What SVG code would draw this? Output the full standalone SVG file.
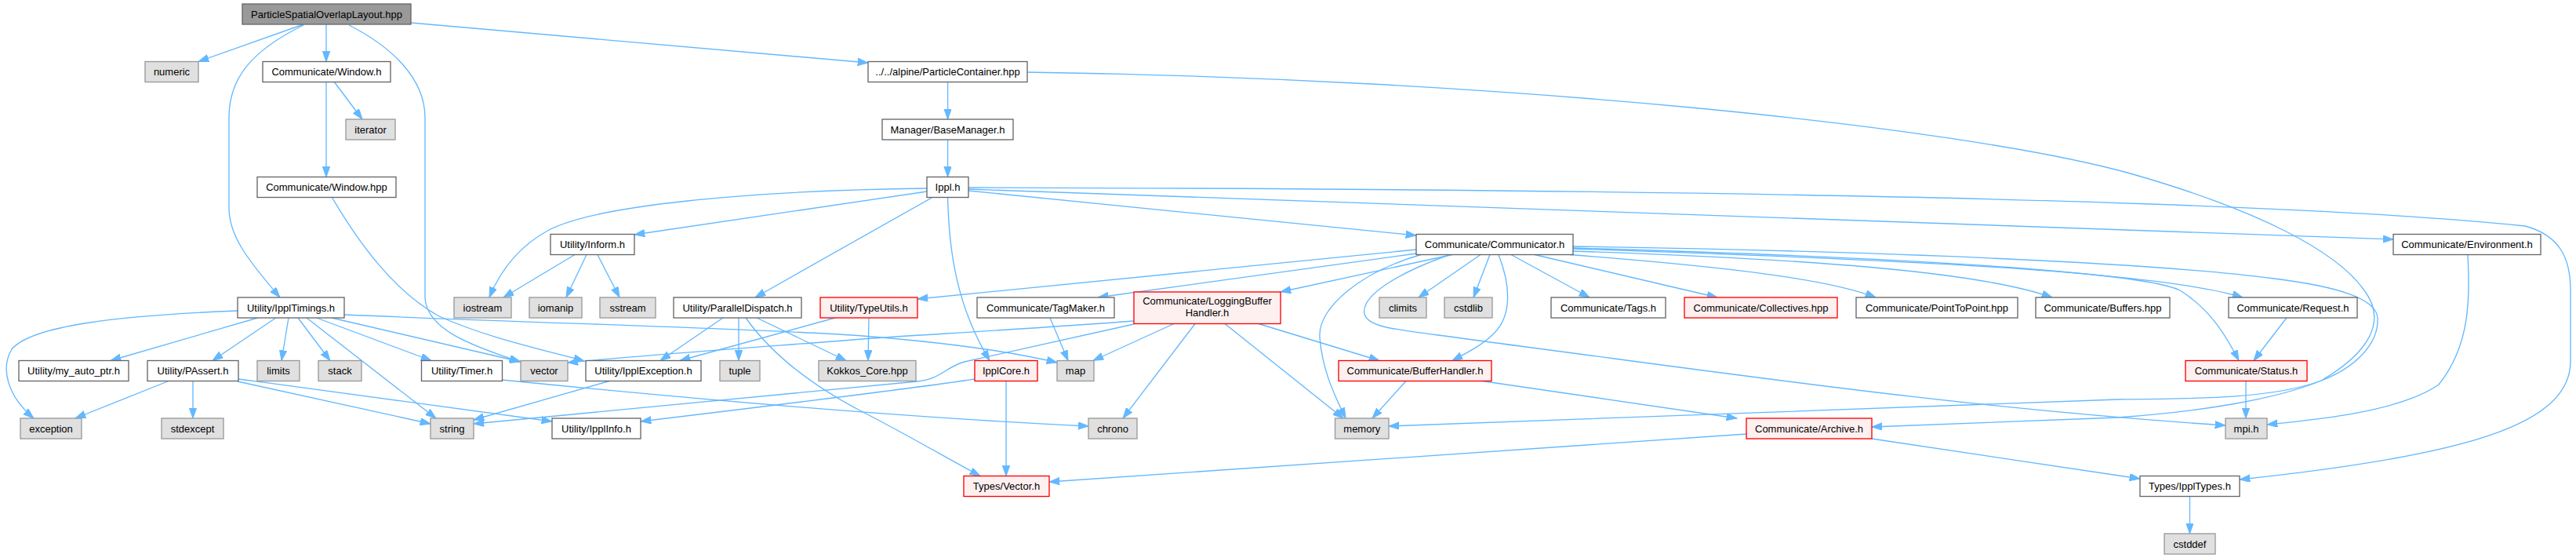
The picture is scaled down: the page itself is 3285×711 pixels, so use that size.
<svg xmlns="http://www.w3.org/2000/svg" width="3285" height="711" viewBox="0 0 3285 711">
<style>
rect{stroke-width:1.33}
.n rect{fill:#ffffff;stroke:#666666}
.s rect{fill:#e0e0e0;stroke:#999999}
.r rect{fill:#fff0f0;stroke:#ff0000}
.root rect{fill:#999999;stroke:#666666}
text{font-family:"Liberation Sans",Arial,Helvetica,sans-serif;font-size:13px;text-anchor:middle;fill:#000000}
#edges path{fill:none;stroke:#63b8ff;stroke-width:1.33;marker-end:url(#a)}
</style>
<defs>
<marker id="a" markerUnits="userSpaceOnUse" markerWidth="14" markerHeight="10" refX="13.3" refY="4.7" orient="auto"><path d="M0,0L13.3,4.7L0,9.4z" fill="#63b8ff" stroke="#63b8ff" stroke-width="1"/></marker>
</defs>
<rect width="3285" height="711" fill="#ffffff"/>
<g id="edges">
<path d="M387,31 L253,78.5"/>
<path d="M416,31 L416,78.5"/>
<path d="M387,32 C320,65 292,100 292,150 L292,265 C292,300 315,330 357,379"/>
<path d="M445,32 C500,60 542,100 542,150 L542,380 C545,420 600,440 663,461"/>
<path d="M524,29 L1107,80"/>
<path d="M426,104 L462,152"/>
<path d="M416,104 L416,225.5"/>
<path d="M423,251 C455,305 500,370 560,403 C620,430 690,445 745,460"/>
<path d="M1208.6,104.5 L1208.6,152"/>
<path d="M1208.6,178 L1208.6,225.5"/>
<path d="M1310,92 C1900,100 2500,160 2720,222 C2880,268 2980,320 3015,370 C3045,410 3020,450 2960,485 C2900,508 2800,508 2700,509 L1771,543"/>
<path d="M1182,240 C950,243 760,262 700,293 C665,312 640,340 624,379"/>
<path d="M1182,244 L809,299"/>
<path d="M1189,251.5 L963,379"/>
<path d="M1208.6,251.5 C1210,320 1220,390 1262,459.5"/>
<path d="M1235,243 L1806,300"/>
<path d="M1235,241 L3052,305"/>
<path d="M1235,239 C2200,241 2900,255 3220,288 C3265,300 3278,330 3278,370 L3278,460 C3278,540 3150,580 2856,611"/>
<path d="M733,324.5 L642,379"/>
<path d="M748,324.5 L722,379"/>
<path d="M762,324.5 L790,379"/>
<path d="M1806,318 L1170,381"/>
<path d="M1806,323 L1400,379"/>
<path d="M1812,324.5 C1740,345 1680,390 1683,430 C1686,470 1700,500 1716,533"/>
<path d="M1852,324.5 L1633,372"/>
<path d="M1849,324.5 C1790,345 1735,375 1740,400 C1745,420 1790,420 1900,436 C2200,475 2500,520 2838,542"/>
<path d="M1888,324.5 L1809,379"/>
<path d="M1900,324.5 L1879,379"/>
<path d="M1911,324.5 C1925,360 1930,400 1905,425 C1890,440 1870,450 1852,459.5"/>
<path d="M1927,324.5 L2027,379"/>
<path d="M1957,324.5 L2190,379"/>
<path d="M2002,324.5 C2200,340 2330,355 2392,379"/>
<path d="M2006,320 C2300,330 2520,345 2617,379"/>
<path d="M2006,317 C2400,330 2750,345 2860,379"/>
<path d="M2006,316 C2500,330 2740,350 2780,370 C2820,395 2840,430 2855,459.5"/>
<path d="M2006,314 C2400,320 2750,335 2900,355 C2980,365 3030,380 3032,405 C3034,440 3000,470 2960,485 C2900,510 2800,525 2700,532 L2387,544"/>
<path d="M3147,324.5 C3150,380 3150,440 3110,490 C3060,525 2950,535 2891,541"/>
<path d="M2916,405 L2874,459.5"/>
<path d="M2864,485.5 L2864,533"/>
<path d="M1793,485.5 L1750,533"/>
<path d="M1890,485.5 L2215,533"/>
<path d="M1497,412.5 L1394,459.5"/>
<path d="M1524,412.5 L1432,533"/>
<path d="M1562,412.5 L1713,533"/>
<path d="M1605,412.5 L1759,459.5"/>
<path d="M1446,413 L1230,461 C1205,468 1200,483 1170,486 L604,540"/>
<path d="M1446,409 C1300,420 1150,428 1100,432 C1000,440 850,450 724,462"/>
<path d="M640,484 C900,510 1150,532 1388,543"/>
<path d="M1243,483 C1150,497 1000,515 817,537"/>
<path d="M1283,485.5 L1283,606.5"/>
<path d="M922,405 L842,459.5"/>
<path d="M942,405 L942,459.5"/>
<path d="M965,405 L1079,459.5"/>
<path d="M951,405 C990,460 1050,500 1110,530 C1160,556 1210,585 1250,606.5"/>
<path d="M1108,405 L1107,459.5"/>
<path d="M1065,405 L867,459.5"/>
<path d="M1339,405 L1362,459.5"/>
<path d="M2227,553 L1338,614"/>
<path d="M2387,559 L2729,610"/>
<path d="M2792.5,632.5 L2792.5,680"/>
<path d="M777,485.5 L604,535"/>
<path d="M215,485.5 L96,533"/>
<path d="M246,485.5 L246,533"/>
<path d="M303,486 L549,540"/>
<path d="M304,483 C450,502 600,522 704,537"/>
<path d="M303,396 C150,402 40,415 15,445 C0,470 10,505 43,533"/>
<path d="M328.6,405 L141,459.5"/>
<path d="M351.8,405 L271,459.5"/>
<path d="M368,405 L359,459.5"/>
<path d="M380,405 L421,459.5"/>
<path d="M391,405 L556,533"/>
<path d="M403.6,405 L550,459.5"/>
<path d="M423,405 L664,461"/>
<path d="M439,401 C700,412 1000,420 1100,428 C1200,436 1290,448 1348,462"/>
</g>
<g id="n0" class="root"><rect x="309" y="5" width="215" height="26"/><text x="416.5" y="22.5">ParticleSpatialOverlapLayout.hpp</text></g>
<g id="n1" class="s"><rect x="185" y="78.5" width="68" height="26"/><text x="219" y="96">numeric</text></g>
<g id="n2" class="n"><rect x="335" y="78.5" width="163" height="26"/><text x="416.5" y="96">Communicate/Window.h</text></g>
<g id="n3" class="n"><rect x="1107" y="78.5" width="203" height="26"/><text x="1208.5" y="96">../../alpine/ParticleContainer.hpp</text></g>
<g id="n4" class="s"><rect x="441" y="152" width="63" height="26"/><text x="472.5" y="169.5">iterator</text></g>
<g id="n5" class="n"><rect x="1125" y="152" width="167" height="26"/><text x="1208.5" y="169.5">Manager/BaseManager.h</text></g>
<g id="n6" class="n"><rect x="328" y="225.5" width="177" height="26"/><text x="416.5" y="243">Communicate/Window.hpp</text></g>
<g id="n7" class="n"><rect x="1182" y="225.5" width="53" height="26"/><text x="1208.5" y="243">Ippl.h</text></g>
<g id="n8" class="n"><rect x="702" y="298.5" width="107" height="26"/><text x="755.5" y="316">Utility/Inform.h</text></g>
<g id="n9" class="n"><rect x="1806" y="298.5" width="200" height="26"/><text x="1906" y="316">Communicate/Communicator.h</text></g>
<g id="n10" class="n"><rect x="3052" y="298.5" width="188" height="26"/><text x="3146" y="316">Communicate/Environment.h</text></g>
<g id="n11" class="n"><rect x="303" y="379" width="136" height="26"/><text x="371" y="396.5">Utility/IpplTimings.h</text></g>
<g id="n12" class="s"><rect x="579" y="379" width="73" height="26"/><text x="615.5" y="396.5">iostream</text></g>
<g id="n13" class="s"><rect x="675" y="379" width="67" height="26"/><text x="708.5" y="396.5">iomanip</text></g>
<g id="n14" class="s"><rect x="765" y="379" width="71" height="26"/><text x="800.5" y="396.5">sstream</text></g>
<g id="n15" class="n"><rect x="859" y="379" width="163" height="26"/><text x="940.5" y="396.5">Utility/ParallelDispatch.h</text></g>
<g id="n16" class="r"><rect x="1046" y="379" width="124" height="26"/><text x="1108" y="396.5">Utility/TypeUtils.h</text></g>
<g id="n17" class="n"><rect x="1246" y="379" width="175" height="26"/><text x="1333.5" y="396.5">Communicate/TagMaker.h</text></g>
<g id="n18" class="r"><rect x="1446" y="372" width="187" height="40.5"/><text x="1539.5" y="388">Communicate/LoggingBuffer</text><text x="1539.5" y="402.5">Handler.h</text></g>
<g id="n19" class="s"><rect x="1759" y="379" width="60" height="26"/><text x="1789" y="396.5">climits</text></g>
<g id="n20" class="s"><rect x="1842" y="379" width="61" height="26"/><text x="1872.5" y="396.5">cstdlib</text></g>
<g id="n21" class="n"><rect x="1978" y="379" width="146" height="26"/><text x="2051" y="396.5">Communicate/Tags.h</text></g>
<g id="n22" class="r"><rect x="2148" y="379" width="195" height="26"/><text x="2245.5" y="396.5">Communicate/Collectives.hpp</text></g>
<g id="n23" class="n"><rect x="2367" y="379" width="206" height="26"/><text x="2470" y="396.5">Communicate/PointToPoint.hpp</text></g>
<g id="n24" class="n"><rect x="2596" y="379" width="171" height="26"/><text x="2681.5" y="396.5">Communicate/Buffers.hpp</text></g>
<g id="n25" class="n"><rect x="2842" y="379" width="164" height="26"/><text x="2924" y="396.5">Communicate/Request.h</text></g>
<g id="n26" class="n"><rect x="24" y="459.5" width="140" height="26"/><text x="94" y="477">Utility/my_auto_ptr.h</text></g>
<g id="n27" class="n"><rect x="188" y="459.5" width="116" height="26"/><text x="246" y="477">Utility/PAssert.h</text></g>
<g id="n28" class="s"><rect x="328" y="459.5" width="54" height="26"/><text x="355" y="477">limits</text></g>
<g id="n29" class="s"><rect x="406" y="459.5" width="55" height="26"/><text x="433.5" y="477">stack</text></g>
<g id="n30" class="n"><rect x="537.5" y="459.5" width="103" height="26"/><text x="589" y="477">Utility/Timer.h</text></g>
<g id="n31" class="s"><rect x="664" y="459.5" width="60" height="26"/><text x="694" y="477">vector</text></g>
<g id="n32" class="n"><rect x="747" y="459.5" width="147" height="26"/><text x="820.5" y="477">Utility/IpplException.h</text></g>
<g id="n33" class="s"><rect x="918" y="459.5" width="51" height="26"/><text x="943.5" y="477">tuple</text></g>
<g id="n34" class="s"><rect x="1044" y="459.5" width="124" height="26"/><text x="1106" y="477">Kokkos_Core.hpp</text></g>
<g id="n35" class="r"><rect x="1243" y="459.5" width="80" height="26"/><text x="1283" y="477">IpplCore.h</text></g>
<g id="n36" class="s"><rect x="1348" y="459.5" width="47" height="26"/><text x="1371.5" y="477">map</text></g>
<g id="n37" class="r"><rect x="1707" y="459.5" width="195" height="26"/><text x="1804.5" y="477">Communicate/BufferHandler.h</text></g>
<g id="n38" class="r"><rect x="2787" y="459.5" width="155" height="26"/><text x="2864.5" y="477">Communicate/Status.h</text></g>
<g id="n39" class="s"><rect x="26" y="533" width="78" height="26"/><text x="65" y="550.5">exception</text></g>
<g id="n40" class="s"><rect x="206" y="533" width="79" height="26"/><text x="245.5" y="550.5">stdexcept</text></g>
<g id="n41" class="s"><rect x="549" y="533" width="55" height="26"/><text x="576.5" y="550.5">string</text></g>
<g id="n42" class="n"><rect x="704" y="533" width="113" height="26"/><text x="760.5" y="550.5">Utility/IpplInfo.h</text></g>
<g id="n43" class="s"><rect x="1388" y="533" width="62" height="26"/><text x="1419" y="550.5">chrono</text></g>
<g id="n44" class="s"><rect x="1702.5" y="533" width="68.5" height="26"/><text x="1736.8" y="550.5">memory</text></g>
<g id="n45" class="r"><rect x="2227" y="533" width="160" height="26"/><text x="2307" y="550.5">Communicate/Archive.h</text></g>
<g id="n46" class="s"><rect x="2838" y="533" width="53" height="26"/><text x="2864.5" y="550.5">mpi.h</text></g>
<g id="n47" class="r"><rect x="1229" y="606.5" width="109" height="26"/><text x="1283.5" y="624">Types/Vector.h</text></g>
<g id="n48" class="n"><rect x="2729" y="606.5" width="127" height="26"/><text x="2792.5" y="624">Types/IpplTypes.h</text></g>
<g id="n49" class="s"><rect x="2760" y="680" width="65" height="26"/><text x="2792.5" y="697.5">cstddef</text></g>
</svg>
